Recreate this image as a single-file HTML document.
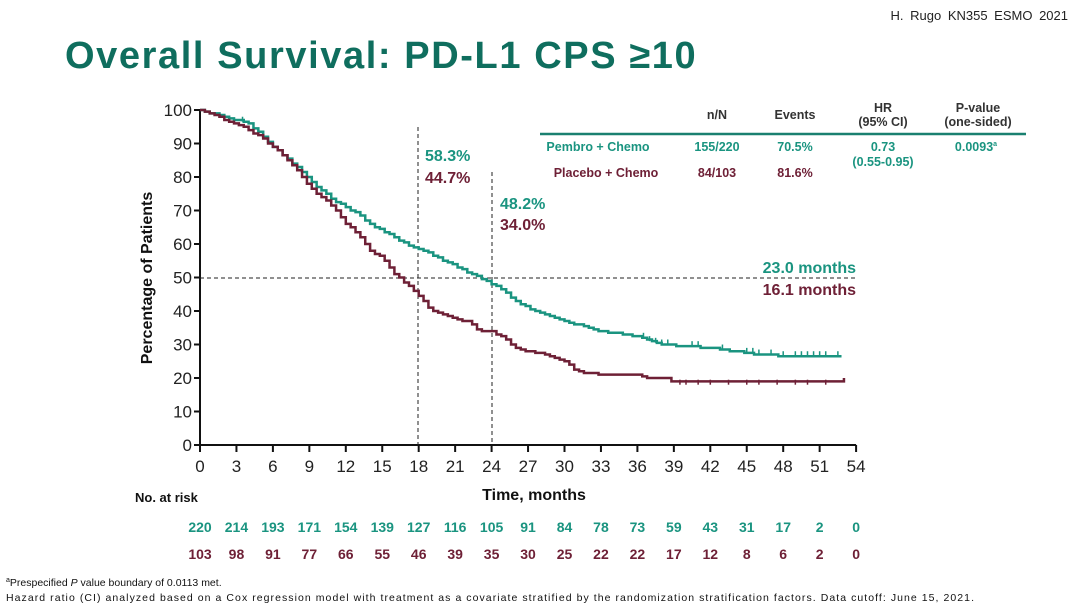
<!DOCTYPE html><html><head><meta charset="utf-8"><style>
body{margin:0;background:#fff;}
svg{display:block;font-family:"Liberation Sans",Arial,sans-serif;}
</style></head><body>
<svg id="s" width="1080" height="608" viewBox="0 0 1080 608" xmlns="http://www.w3.org/2000/svg">
<text x="1068" y="20" font-size="13" text-anchor="end" fill="#222" word-spacing="3">H. Rugo  KN355  ESMO 2021</text>
<text x="65" y="68" font-size="38" font-weight="bold" fill="#0f6e5e" letter-spacing="1.6">Overall Survival: PD-L1 CPS ≥10</text>
<g id="ax" stroke="#111" stroke-width="2" fill="none"></g>
<g id="lbl" font-size="17" fill="#222"></g>
<text transform="translate(152,278) rotate(-90)" font-size="16" font-weight="bold" text-anchor="middle" fill="#111">Percentage of Patients</text>
<text x="534" y="500" font-size="16" font-weight="bold" text-anchor="middle" fill="#111">Time, months</text>
<line x1="200" y1="278" x2="855" y2="278" stroke="#222" stroke-dasharray="4,3"/>
<line x1="418" y1="127" x2="418" y2="445" stroke="#222" stroke-dasharray="4,3"/>
<line x1="492" y1="172" x2="492" y2="445" stroke="#222" stroke-dasharray="4,3"/>
<path id="t" fill="none" stroke="#1a9480" stroke-width="2.5"/>
<path id="m" fill="none" stroke="#6e2036" stroke-width="2.5"/>
<g id="cens" stroke-width="1.5"></g>
<g font-size="16" font-weight="bold">
<text x="425" y="161" fill="#1a9480">58.3%</text><text x="425" y="183" fill="#6e2036">44.7%</text>
<text x="500" y="209" fill="#1a9480">48.2%</text><text x="500" y="230" fill="#6e2036">34.0%</text>
<text x="856" y="273" fill="#1a9480" text-anchor="end">23.0 months</text>
<text x="856" y="295" fill="#6e2036" text-anchor="end">16.1 months</text>
</g>
<g font-size="12.5" font-weight="bold" text-anchor="middle" fill="#333">
<text x="717" y="119">n/N</text><text x="795" y="119">Events</text>
<text x="883" y="112">HR</text><text x="883" y="126">(95% CI)</text>
<text x="978" y="112">P-value</text><text x="978" y="126">(one-sided)</text>
</g>
<line x1="540" y1="134" x2="1026" y2="134" stroke="#1a8070" stroke-width="2.5"/>
<g font-size="12.5" font-weight="bold" text-anchor="middle">
<g fill="#1a9480"><text x="598" y="151">Pembro + Chemo</text><text x="717" y="151">155/220</text><text x="795" y="151">70.5%</text><text x="883" y="151">0.73</text><text x="883" y="166">(0.55-0.95)</text><text x="976" y="151">0.0093<tspan font-size="7" dy="-5">a</tspan></text></g>
<g fill="#6e2036"><text x="606" y="177">Placebo + Chemo</text><text x="717" y="177">84/103</text><text x="795" y="177">81.6%</text></g>
</g>
<text x="135" y="502" font-size="13" font-weight="bold" fill="#111">No. at risk</text>
<g id="risk" font-size="14" font-weight="bold" text-anchor="middle"></g>
<text x="6" y="586" font-size="10.5" fill="#111"><tspan font-size="7" dy="-4">a</tspan><tspan dy="4">Prespecified </tspan><tspan font-style="italic">P</tspan> value boundary of 0.0113 met.</text>
<text x="6" y="601" font-size="10.5" fill="#111" textLength="968">Hazard ratio (CI) analyzed based on a Cox regression model  with treatment  as a covariate stratified by the randomization  stratification factors. Data cutoff: June 15, 2021.</text>
</svg>
<script>
const X=m=>200+m*12.15, Y=p=>445-p*3.35, NS="http://www.w3.org/2000/svg";
function el(p,t,a,txt){const e=document.createElementNS(NS,t);for(const k in a)e.setAttribute(k,a[k]);if(txt!==undefined)e.textContent=txt;p.appendChild(e);return e;}
const ax=document.getElementById('ax'),lbl=document.getElementById('lbl');
let d=`M200 ${Y(100)} V445 H${X(54)}`;
for(let v=0;v<=100;v+=10){d+=` M194 ${Y(v)} H200`;el(lbl,'text',{x:192,y:Y(v)+6,'text-anchor':'end'},v);}
for(let m=0;m<=54;m+=3){d+=` M${X(m)} 445 V452`;el(lbl,'text',{x:X(m),y:472,'text-anchor':'middle'},m);}
el(ax,'path',{d});
function val(pts,m){for(let i=1;i<pts.length;i++){if(pts[i][0]>=m){const a=pts[i-1],b=pts[i];if(b[1]===a[1])return a[1];return a[1]+(b[1]-a[1])*(m-a[0])/(b[0]-a[0]);}}return pts[pts.length-1][1];}
function step(pts,end){let s=`M${X(0)} ${Y(100)}`;let last=100;const lastX=pts[pts.length-1][0];
for(let m=0.4;m<=lastX+0.01;m+=0.4){let v=Math.round(val(pts,m)*2)/2;if(v!==last){s+=` H${X(m)} V${Y(v)}`;last=v;}}
s+=` H${X(end)}`;return s;}
const T=[[0,100],[1,99],[2,98],[3,97],[4,96],[4.5,94],[5,93],[6,89],[7,86],[8,83],[9,79],[10,76],[11,73],[12,71],[13,69],[14,66],[15,64],[16,62],[17,60],[18,58.3],[19,57],[20,55],[21,53.5],[22,51.5],[23,50],[24,48.2],[25,46],[26,43],[27,41],[28,39.5],[29,38],[30,37],[31,36],[32,35],[33,34],[35,33],[36,32.5],[37,31],[38,30],[40,29.5],[42,29],[44,28],[46,27],[49,26.5]];
const M=[[0,100],[1,99],[2,97],[3,96],[4,94],[5,92],[6,89],[7,86],[8,82],[9,77],[10,74],[11,71],[12,66],[13,63],[14,58],[15,56],[16,51],[17,48],[18,44.7],[19,40],[20,39],[21,37.5],[22,37],[23,34],[24,34],[25,32],[26,29],[27,28],[28,27.5],[29,26.5],[30,25],[31,22],[33,21],[36,21],[37,20],[38.5,20],[39,18]];
document.getElementById('t').setAttribute('d',step(T,52.8));
document.getElementById('m').setAttribute('d',step(M,53)+` V${Y(20)}`);
const c=document.getElementById('cens');
function cen(arr,pts,col){for(const m of arr){const p=Math.round(val(pts,m)*2)/2;el(c,'line',{x1:X(m),x2:X(m),y1:Y(p)-5,y2:Y(p),stroke:col});}}
cen([3.5,36.5,37,37.5,38,38.5,40.5,41,43,45,45.5,46,47,48,49,49.5,50,50.5,51,51.5,52.5],T,'#1a9480');
cen([39.5,40,41,42,43.5,45,46,47.5,49,50,51.5],M,'#6e2036');
const r=document.getElementById('risk');
const a=[220,214,193,171,154,139,127,116,105,91,84,78,73,59,43,31,17,2,0],b=[103,98,91,77,66,55,46,39,35,30,25,22,22,17,12,8,6,2,0];
a.forEach((v,i)=>el(r,'text',{x:X(i*3),y:532,fill:'#1a9480'},v));
b.forEach((v,i)=>el(r,'text',{x:X(i*3),y:559,fill:'#6e2036'},v));
</script>
</body></html>
